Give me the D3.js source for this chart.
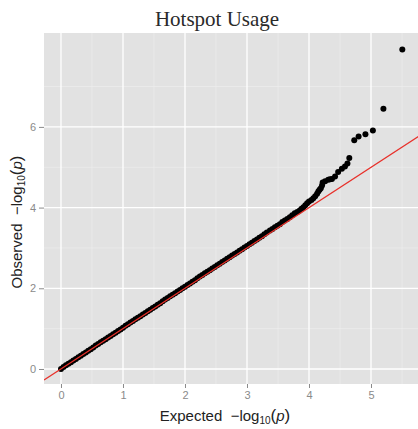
<!DOCTYPE html>
<html>
<head>
<meta charset="utf-8">
<script src="https://cdn.jsdelivr.net/npm/d3@7"></script>
<style>
  html, body { margin: 0; padding: 0; background: #ffffff; }
  svg { display: block; }
</style>
</head>
<body>
<div id="chart"></div>
<script>
// Q-Q plot: expected vs observed -log10(p) for hotspot usage
const expected = [
  0.00, 0.04, 0.08, 0.12, 0.16, 0.20, 0.24, 0.28, 0.32, 0.36,
  0.40, 0.44, 0.48, 0.52, 0.56, 0.60, 0.64, 0.68, 0.72, 0.76,
  0.80, 0.84, 0.88, 0.92, 0.96, 1.00, 1.04, 1.08, 1.12, 1.16,
  1.20, 1.24, 1.28, 1.32, 1.36, 1.40, 1.44, 1.48, 1.52, 1.56,
  1.60, 1.64, 1.68, 1.72, 1.76, 1.80, 1.84, 1.88, 1.92, 1.96,
  2.00, 2.04, 2.08, 2.12, 2.16, 2.20, 2.24, 2.28, 2.32, 2.36,
  2.40, 2.44, 2.48, 2.52, 2.56, 2.60, 2.64, 2.68, 2.72, 2.76,
  2.80, 2.84, 2.88, 2.92, 2.96, 3.00, 3.04, 3.08, 3.12, 3.16,
  3.20, 3.24, 3.28, 3.32,
  3.37, 3.41, 3.45, 3.49, 3.53, 3.57, 3.61, 3.65, 3.69, 3.73,
  3.77, 3.81, 3.85, 3.88, 3.91, 3.94, 3.97, 4.00, 4.04, 4.07,
  4.10, 4.13, 4.15, 4.17, 4.19, 4.21, 4.22, 4.26, 4.31, 4.34,
  4.37, 4.42, 4.47, 4.53, 4.58, 4.62, 4.65, 4.73, 4.80, 4.91,
  5.03, 5.20, 5.505
];
const observed = [
  0.00, 0.05, 0.09, 0.13, 0.17, 0.21, 0.25, 0.29, 0.33, 0.37,
  0.41, 0.45, 0.49, 0.53, 0.58, 0.62, 0.66, 0.70, 0.74, 0.78,
  0.82, 0.86, 0.90, 0.94, 0.98, 1.02, 1.07, 1.11, 1.15, 1.19,
  1.23, 1.27, 1.31, 1.35, 1.39, 1.43, 1.47, 1.51, 1.55, 1.59,
  1.63, 1.68, 1.72, 1.76, 1.80, 1.84, 1.88, 1.92, 1.96, 2.00,
  2.04, 2.08, 2.12, 2.16, 2.20, 2.25, 2.29, 2.33, 2.37, 2.41,
  2.45, 2.49, 2.53, 2.57, 2.61, 2.65, 2.69, 2.73, 2.77, 2.81,
  2.85, 2.89, 2.93, 2.97, 3.01, 3.05, 3.09, 3.13, 3.17, 3.21,
  3.25, 3.29, 3.34, 3.38,
  3.43, 3.47, 3.51, 3.55, 3.59, 3.64, 3.68, 3.72, 3.76, 3.81,
  3.86, 3.89, 3.93, 3.97, 4.01, 4.06, 4.11, 4.15, 4.19, 4.23,
  4.28, 4.34, 4.40, 4.44, 4.48, 4.55, 4.62, 4.65, 4.69, 4.70,
  4.71, 4.77, 4.88, 4.96, 5.02, 5.09, 5.23, 5.67, 5.76, 5.82,
  5.91, 6.45, 7.92
];
const xTicks = [0, 1, 2, 3, 4, 5];
const yTicks = [0, 2, 4, 6];
const xMinor = [0.5, 1.5, 2.5, 3.5, 4.5, 5.5];
const yMinor = [1, 3, 5, 7];
const xDomain = [-0.274, 5.774];
const yDomain = [-0.372, 8.327];
const chartTitle = "Hotspot Usage";

const W = 418, H = 429;
const panel = { left: 44, right: 419, top: 33, bottom: 384 };

const svg = d3.select("#chart").append("svg")
  .attr("width", W).attr("height", H)
  .style("background", "#ffffff");

const x = d3.scaleLinear().domain(xDomain).range([panel.left, panel.right]);
const y = d3.scaleLinear().domain(yDomain).range([panel.bottom, panel.top]);

svg.append("defs").append("clipPath").attr("id", "panel-clip")
  .append("rect")
  .attr("x", panel.left).attr("y", panel.top)
  .attr("width", panel.right - panel.left).attr("height", panel.bottom - panel.top);

// panel background
svg.append("rect")
  .attr("x", panel.left).attr("y", panel.top)
  .attr("width", panel.right - panel.left).attr("height", panel.bottom - panel.top)
  .attr("fill", "#e2e2e2");

const grid = svg.append("g");
// minor grid
grid.selectAll("line.xm").data(xMinor).join("line")
  .attr("x1", d => x(d)).attr("x2", d => x(d))
  .attr("y1", panel.top).attr("y2", panel.bottom)
  .attr("stroke", "#f0f0f0").attr("stroke-width", 0.6);
grid.selectAll("line.ym").data(yMinor).join("line")
  .attr("y1", d => y(d)).attr("y2", d => y(d))
  .attr("x1", panel.left).attr("x2", panel.right)
  .attr("stroke", "#f0f0f0").attr("stroke-width", 0.6);
// major grid
grid.selectAll("line.xM").data(xTicks).join("line")
  .attr("x1", d => x(d)).attr("x2", d => x(d))
  .attr("y1", panel.top).attr("y2", panel.bottom)
  .attr("stroke", "#ffffff").attr("stroke-width", 1.3);
grid.selectAll("line.yM").data(yTicks).join("line")
  .attr("y1", d => y(d)).attr("y2", d => y(d))
  .attr("x1", panel.left).attr("x2", panel.right)
  .attr("stroke", "#ffffff").attr("stroke-width", 1.3);

// axes
const xAxis = d3.axisBottom(x).tickValues(xTicks).tickSize(4).tickPadding(3)
  .tickFormat(d3.format("d"));
const yAxis = d3.axisLeft(y).tickValues(yTicks).tickSize(5).tickPadding(3)
  .tickFormat(d3.format("d"));

const gx = svg.append("g").attr("transform", `translate(0,${panel.bottom})`).call(xAxis);
const gy = svg.append("g").attr("transform", `translate(${panel.left},0)`).call(yAxis);
[gx, gy].forEach(g => {
  g.select(".domain").remove();
  g.selectAll(".tick line").attr("stroke", "#8a8a8a");
  g.selectAll(".tick text")
    .attr("fill", "#8a8a8a")
    .style("font-family", "'Liberation Sans', Arial, sans-serif")
    .style("font-size", "11px");
});

// points
const pts = expected.map((e, i) => ({ e, o: observed[i] }));
svg.append("g").attr("clip-path", "url(#panel-clip)")
  .selectAll("circle").data(pts).join("circle")
  .attr("cx", d => x(d.e)).attr("cy", d => y(d.o))
  .attr("r", 3.0).attr("fill", "#000000");

// reference line y = x
svg.append("line").attr("clip-path", "url(#panel-clip)")
  .attr("x1", x(xDomain[0])).attr("y1", y(xDomain[0]))
  .attr("x2", x(xDomain[1])).attr("y2", y(xDomain[1]))
  .attr("stroke", "#e8302a").attr("stroke-width", 1.3);

// title
svg.append("text")
  .attr("x", 217).attr("y", 26)
  .attr("text-anchor", "middle")
  .style("font-family", "'Liberation Serif', 'DejaVu Serif', serif")
  .style("font-size", "21px")
  .attr("fill", "#2a2a2a")
  .text(chartTitle);

// axis title builder: "<label>  −log10(p)"
function axisTitle(sel, label) {
  sel.style("font-family", "'Liberation Sans', Arial, sans-serif")
    .style("font-size", "15px").attr("fill", "#222222")
    .attr("xml:space", "preserve");
  sel.append("tspan").text(label + "  \u2212log");
  sel.append("tspan").attr("font-size", "10px").attr("dy", 3).text("10");
  sel.append("tspan").attr("dy", -3).attr("font-size", "17px").text("(");
  sel.append("tspan").attr("font-style", "italic").text("p");
  sel.append("tspan").attr("font-size", "17px").text(")");
}

svg.append("text")
  .attr("x", 225).attr("y", 421)
  .attr("text-anchor", "middle")
  .call(axisTitle, "Expected");

svg.append("text")
  .attr("transform", "translate(22,222) rotate(-90)")
  .attr("text-anchor", "middle")
  .call(axisTitle, "Observed");
</script>
</body>
</html>
